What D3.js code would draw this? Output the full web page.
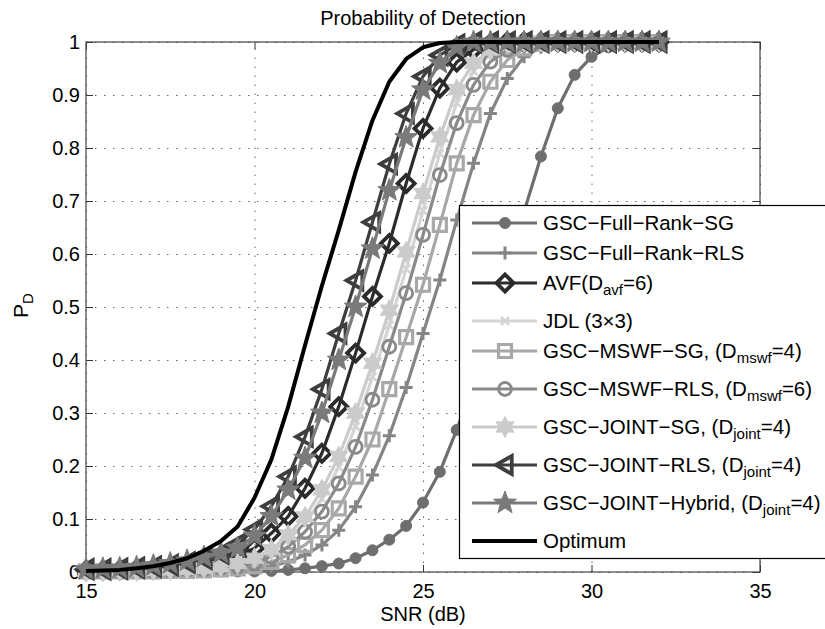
<!DOCTYPE html>
<html>
<head>
<meta charset="utf-8">
<script src="https://cdn.jsdelivr.net/npm/d3@7"></script>
<style>
  body { margin: 0; background: #fff; }
  svg { display: block; font-family: 'Liberation Sans', Arial, Helvetica, sans-serif; }
</style>
</head>
<body>
<svg id="chart" width="825" height="629"></svg>
<script>
/* global d3 */

// SNR grid (dB) shared by every curve
const snr = [15, 15.5, 16, 16.5, 17, 17.5, 18, 18.5, 19, 19.5, 20, 20.5, 21, 21.5, 22, 22.5, 23, 23.5,
  24, 24.5, 25, 25.5, 26, 26.5, 27, 27.5, 28, 28.5, 29, 29.5, 30, 30.5, 31, 31.5, 32]

const fullRankSG = [0, 0, 0, 0, 0, 0, 0, 0, 0.001, 0.001, 0.001, 0.002, 0.004, 0.007, 0.011, 0.016, 0.026, 0.041,
  0.061, 0.087, 0.131, 0.189, 0.268, 0.36, 0.46, 0.57, 0.68, 0.784, 0.875, 0.938, 0.972, 0.99, 0.998, 1, 1]
const fullRankRLS = [0.001, 0.001, 0.001, 0.001, 0.001, 0.001, 0.002, 0.002, 0.003, 0.004, 0.006, 0.011, 0.019, 0.032, 0.051, 0.079, 0.123, 0.183,
  0.257, 0.348, 0.45, 0.551, 0.664, 0.771, 0.865, 0.931, 0.972, 0.99, 0.998, 1, 1, 1, 1, 1, 1]
const avf = [0.003, 0.003, 0.004, 0.005, 0.006, 0.008, 0.01, 0.014, 0.02, 0.03, 0.045, 0.073, 0.105, 0.158, 0.224, 0.312, 0.413, 0.52,
  0.62, 0.733, 0.837, 0.913, 0.962, 0.986, 0.997, 1, 1, 1, 1, 1, 1, 1, 1, 1, 1]
const jdl = [0.001, 0.001, 0.001, 0.002, 0.002, 0.003, 0.004, 0.006, 0.009, 0.014, 0.022, 0.036, 0.06, 0.092, 0.138, 0.198, 0.275, 0.368,
  0.466, 0.572, 0.682, 0.79, 0.885, 0.945, 0.978, 0.993, 0.999, 1, 1, 1, 1, 1, 1, 1, 1]
const mswfSG = [0.001, 0.001, 0.001, 0.001, 0.001, 0.002, 0.002, 0.003, 0.005, 0.007, 0.011, 0.019, 0.032, 0.051, 0.079, 0.12, 0.18, 0.25,
  0.345, 0.443, 0.542, 0.655, 0.771, 0.862, 0.925, 0.966, 0.988, 0.997, 1, 1, 1, 1, 1, 1, 1]
const mswfRLS = [0.001, 0.001, 0.001, 0.002, 0.002, 0.003, 0.004, 0.005, 0.008, 0.011, 0.016, 0.029, 0.048, 0.076, 0.114, 0.167, 0.236, 0.325,
  0.425, 0.526, 0.636, 0.749, 0.847, 0.919, 0.963, 0.985, 0.996, 1, 1, 1, 1, 1, 1, 1, 1]
const jointSG = [0.001, 0.001, 0.002, 0.002, 0.003, 0.004, 0.005, 0.007, 0.01, 0.016, 0.026, 0.042, 0.07, 0.104, 0.155, 0.218, 0.3, 0.394,
  0.494, 0.604, 0.714, 0.821, 0.91, 0.96, 0.985, 0.997, 1, 1, 1, 1, 1, 1, 1, 1, 1]
const jointRLS = [0.005, 0.005, 0.006, 0.008, 0.01, 0.013, 0.018, 0.025, 0.035, 0.053, 0.08, 0.124, 0.18, 0.255, 0.345, 0.45, 0.55, 0.66,
  0.77, 0.865, 0.935, 0.975, 0.995, 1, 1, 1, 1, 1, 1, 1, 1, 1, 1, 1, 1]
const jointHybrid = [0.005, 0.006, 0.007, 0.009, 0.012, 0.016, 0.021, 0.028, 0.036, 0.045, 0.068, 0.105, 0.155, 0.215, 0.3, 0.4, 0.5, 0.61,
  0.72, 0.82, 0.91, 0.96, 0.99, 1, 1, 1, 1, 1, 1, 1, 1, 1, 1, 1, 1]
const optimum = [0.002, 0.003, 0.004, 0.007, 0.011, 0.017, 0.026, 0.04, 0.058, 0.086, 0.14, 0.212, 0.312, 0.428, 0.54, 0.645, 0.755, 0.852,
  0.925, 0.968, 0.99, 0.998, 1, 1, 1, 1, 1, 1, 1, 1, 1, 1, 1, 1, 1]

// legend labels: main text, subscript, tail
const labels = [
  ['GSC−Full−Rank−SG', '', ''],
  ['GSC−Full−Rank−RLS', '', ''],
  ['AVF(D', 'avf', '=6)'],
  ['JDL (3×3)', '', ''],
  ['GSC−MSWF−SG, (D', 'mswf', '=4)'],
  ['GSC−MSWF−RLS, (D', 'mswf', '=6)'],
  ['GSC−JOINT−SG, (D', 'joint', '=4)'],
  ['GSC−JOINT−RLS, (D', 'joint', '=4)'],
  ['GSC−JOINT−Hybrid, (D', 'joint', '=4)'],
  ['Optimum', '', '']
]

const xTicks = [15, 20, 25, 30, 35]
const xTickLabels = ['15', '20', '25', '30', '35']
const yTicks = [0, 0.1, 0.2, 0.3, 0.4, 0.5, 0.6, 0.7, 0.8, 0.9, 1]
const yTickLabels = ['0', '0.1', '0.2', '0.3', '0.4', '0.5', '0.6', '0.7', '0.8', '0.9', '1']

/*
    --------------------------------------
    Marker shapes (size = radius in px)
*/
const mk = {
  circle: {draw (c, r) { c.moveTo(r, 0); c.arc(0, 0, r, 0, 2 * Math.PI) }},
  plus: {draw (c, r) { c.moveTo(-r, 0); c.lineTo(r, 0); c.moveTo(0, -r); c.lineTo(0, r) }},
  cross: {draw (c, r) { c.moveTo(-r, -r); c.lineTo(r, r); c.moveTo(-r, r); c.lineTo(r, -r) }},
  square: {draw (c, r) { c.rect(-r, -r, 2 * r, 2 * r) }},
  diamond: {draw (c, r) { c.moveTo(0, -r); c.lineTo(r, 0); c.lineTo(0, r); c.lineTo(-r, 0); c.closePath() }},
  triLeft: {draw (c, r) { c.moveTo(-r, 0); c.lineTo(r * 0.75, -r); c.lineTo(r * 0.75, r); c.closePath() }},
  hexagram: starType(6, 0.55),
  pentagram: starType(5, 0.42)
}

function starType (n, ratio) {
  return {
    draw (c, r) {
      for (let k = 0; k < 2 * n; k++) {
        const a = -Math.PI / 2 + k * Math.PI / n
        const rr = k % 2 ? r * ratio : r
        if (k === 0) c.moveTo(rr * Math.cos(a), rr * Math.sin(a))
        else c.lineTo(rr * Math.cos(a), rr * Math.sin(a))
      }
      c.closePath()
    }
  }
}

const series = [
  {values: fullRankSG, color: '#6e6e6e', width: 3.2, shape: mk.circle, size: 5.5, fill: true, sw: 1},
  {values: fullRankRLS, color: '#858585', width: 3.2, shape: mk.plus, size: 6.5, fill: false, sw: 3},
  {values: avf, color: '#2b2b2b', width: 3.2, shape: mk.diamond, size: 8.5, fill: false, sw: 3.8},
  {values: jdl, color: '#d4d4d4', width: 3.2, shape: mk.cross, size: 4, fill: false, sw: 2.5},
  {values: mswfSG, color: '#a8a8a8', width: 3.2, shape: mk.square, size: 6.5, fill: false, sw: 3.2},
  {values: mswfRLS, color: '#8a8a8a', width: 3.2, shape: mk.circle, size: 6.5, fill: false, sw: 2.8},
  {values: jointSG, color: '#cbcbcb', width: 3.2, shape: mk.hexagram, size: 10.5, fill: true, sw: 1},
  {values: jointRLS, color: '#3e3e3e', width: 3.2, shape: mk.triLeft, size: 9, fill: false, sw: 3.8},
  {values: jointHybrid, color: '#7a7a7a', width: 3.2, shape: mk.pentagram, size: 12, fill: true, sw: 1},
  {values: optimum, color: '#000', width: 4, shape: null}
]

const margin = {left: 86, top: 42}
const iw = 674
const ih = 530
const fontSize = 20

const svg = d3.select('#chart')
const g = svg.append('g').attr('transform', `translate(${margin.left},${margin.top})`)

const x = d3.scaleLinear().domain([15, 35]).range([0, iw])
const y = d3.scaleLinear().domain([0, 1]).range([ih, 0])

/*
    --------------------------------------
    Grid
*/
g.append('g')
    .attr('class', 'grid')
    .attr('transform', `translate(0,${ih})`)
    .call(d3.axisBottom(x).tickValues(xTicks).tickSize(-ih).tickFormat(''))
g.append('g')
    .attr('class', 'grid')
    .call(d3.axisLeft(y).tickValues(yTicks).tickSize(-iw).tickFormat(''))
g.selectAll('.grid .domain').remove()
g.selectAll('.grid line')
    .attr('stroke', '#666')
    .attr('stroke-dasharray', '1.5,7.5')

/*
    --------------------------------------
    Axes (ticks inside, box on)
*/
const tk = 7
const axes = [
  g.append('g').attr('transform', `translate(0,${ih})`)
      .call(d3.axisBottom(x).tickValues(xTicks).tickSizeInner(-tk).tickSizeOuter(0).tickPadding(12)
          .tickFormat((d, i) => xTickLabels[i])),
  g.append('g')
      .call(d3.axisTop(x).tickValues(xTicks).tickSizeInner(-tk).tickSizeOuter(0).tickFormat('')),
  g.append('g')
      .call(d3.axisLeft(y).tickValues(yTicks).tickSizeInner(-tk).tickSizeOuter(0).tickPadding(6)
          .tickFormat((d, i) => yTickLabels[i])),
  g.append('g').attr('transform', `translate(${iw},0)`)
      .call(d3.axisRight(y).tickValues(yTicks).tickSizeInner(-tk).tickSizeOuter(0).tickFormat(''))
]
axes.forEach(a => {
  a.attr('font-family', null).attr('font-size', fontSize)
  a.select('.domain').remove()
  a.selectAll('line').attr('stroke', '#333')
  a.selectAll('text').attr('fill', '#000')
})

g.append('rect')
    .attr('width', iw)
    .attr('height', ih)
    .attr('fill', 'none')
    .attr('stroke', '#444')
    .attr('stroke-width', 1.2)

/*
    --------------------------------------
    Curves
*/
const line = d3.line()
    .x((d, i) => x(snr[i]))
    .y(d => y(d))

series.forEach(s => {
  const sg = g.append('g')
  sg.append('path')
      .datum(s.values)
      .attr('d', line)
      .attr('fill', 'none')
      .attr('stroke', s.color)
      .attr('stroke-width', s.width)
      .attr('stroke-linejoin', 'round')
  if (!s.shape) return
  sg.selectAll('path.mk')
      .data(s.values)
      .join('path')
      .attr('class', 'mk')
      .attr('transform', (d, i) => `translate(${x(snr[i])},${y(d)})`)
      .attr('d', d3.symbol(s.shape, s.size))
      .attr('fill', s.fill ? s.color : 'none')
      .attr('stroke', s.color)
      .attr('stroke-width', s.sw)
      .attr('stroke-linejoin', 'miter')
})

/*
    --------------------------------------
    Titles
*/
svg.append('text')
    .attr('x', margin.left + iw / 2)
    .attr('y', 25)
    .attr('text-anchor', 'middle')
    .attr('font-size', fontSize)
    .text('Probability of Detection')

svg.append('text')
    .attr('x', margin.left + iw / 2)
    .attr('y', 621)
    .attr('text-anchor', 'middle')
    .attr('font-size', fontSize)
    .text('SNR (dB)')

const yl = svg.append('text')
    .attr('transform', 'translate(28,318) rotate(-90)')
    .attr('font-size', fontSize + 1)
yl.append('tspan').text('P')
yl.append('tspan').attr('font-size', 15).attr('dy', 5).text('D')

/*
    --------------------------------------
    Legend
*/
const lg = svg.append('g')
lg.append('rect')
    .attr('x', 459.5)
    .attr('y', 205.5)
    .attr('width', 400)
    .attr('height', 353)
    .attr('fill', '#fff')
    .attr('stroke', '#000')
    .attr('stroke-width', 1.2)

let cy = 223
labels.forEach((lab, i) => {
  if (i > 0) cy += 30 + (labels[i - 1][1] ? 8 : 0)
  const s = series[i]
  const row = lg.append('g').attr('transform', `translate(0,${cy})`)
  row.append('line')
      .attr('x1', 472)
      .attr('x2', 537)
      .attr('stroke', s.color)
      .attr('stroke-width', s.width)
  if (s.shape) {
    row.append('path')
        .attr('transform', 'translate(505,0)')
        .attr('d', d3.symbol(s.shape, s.size)())
        .attr('fill', s.fill ? s.color : 'none')
        .attr('stroke', s.color)
        .attr('stroke-width', s.sw)
  }
  const t = row.append('text')
      .attr('x', 543)
      .attr('y', 7)
      .attr('font-size', 20.5)
  t.append('tspan').text(lab[0])
  if (lab[1]) {
    t.append('tspan').attr('font-size', 15).attr('dy', 5).text(lab[1])
    t.append('tspan').attr('dy', -5).text(lab[2])
  }
})
</script>
</body>
</html>
